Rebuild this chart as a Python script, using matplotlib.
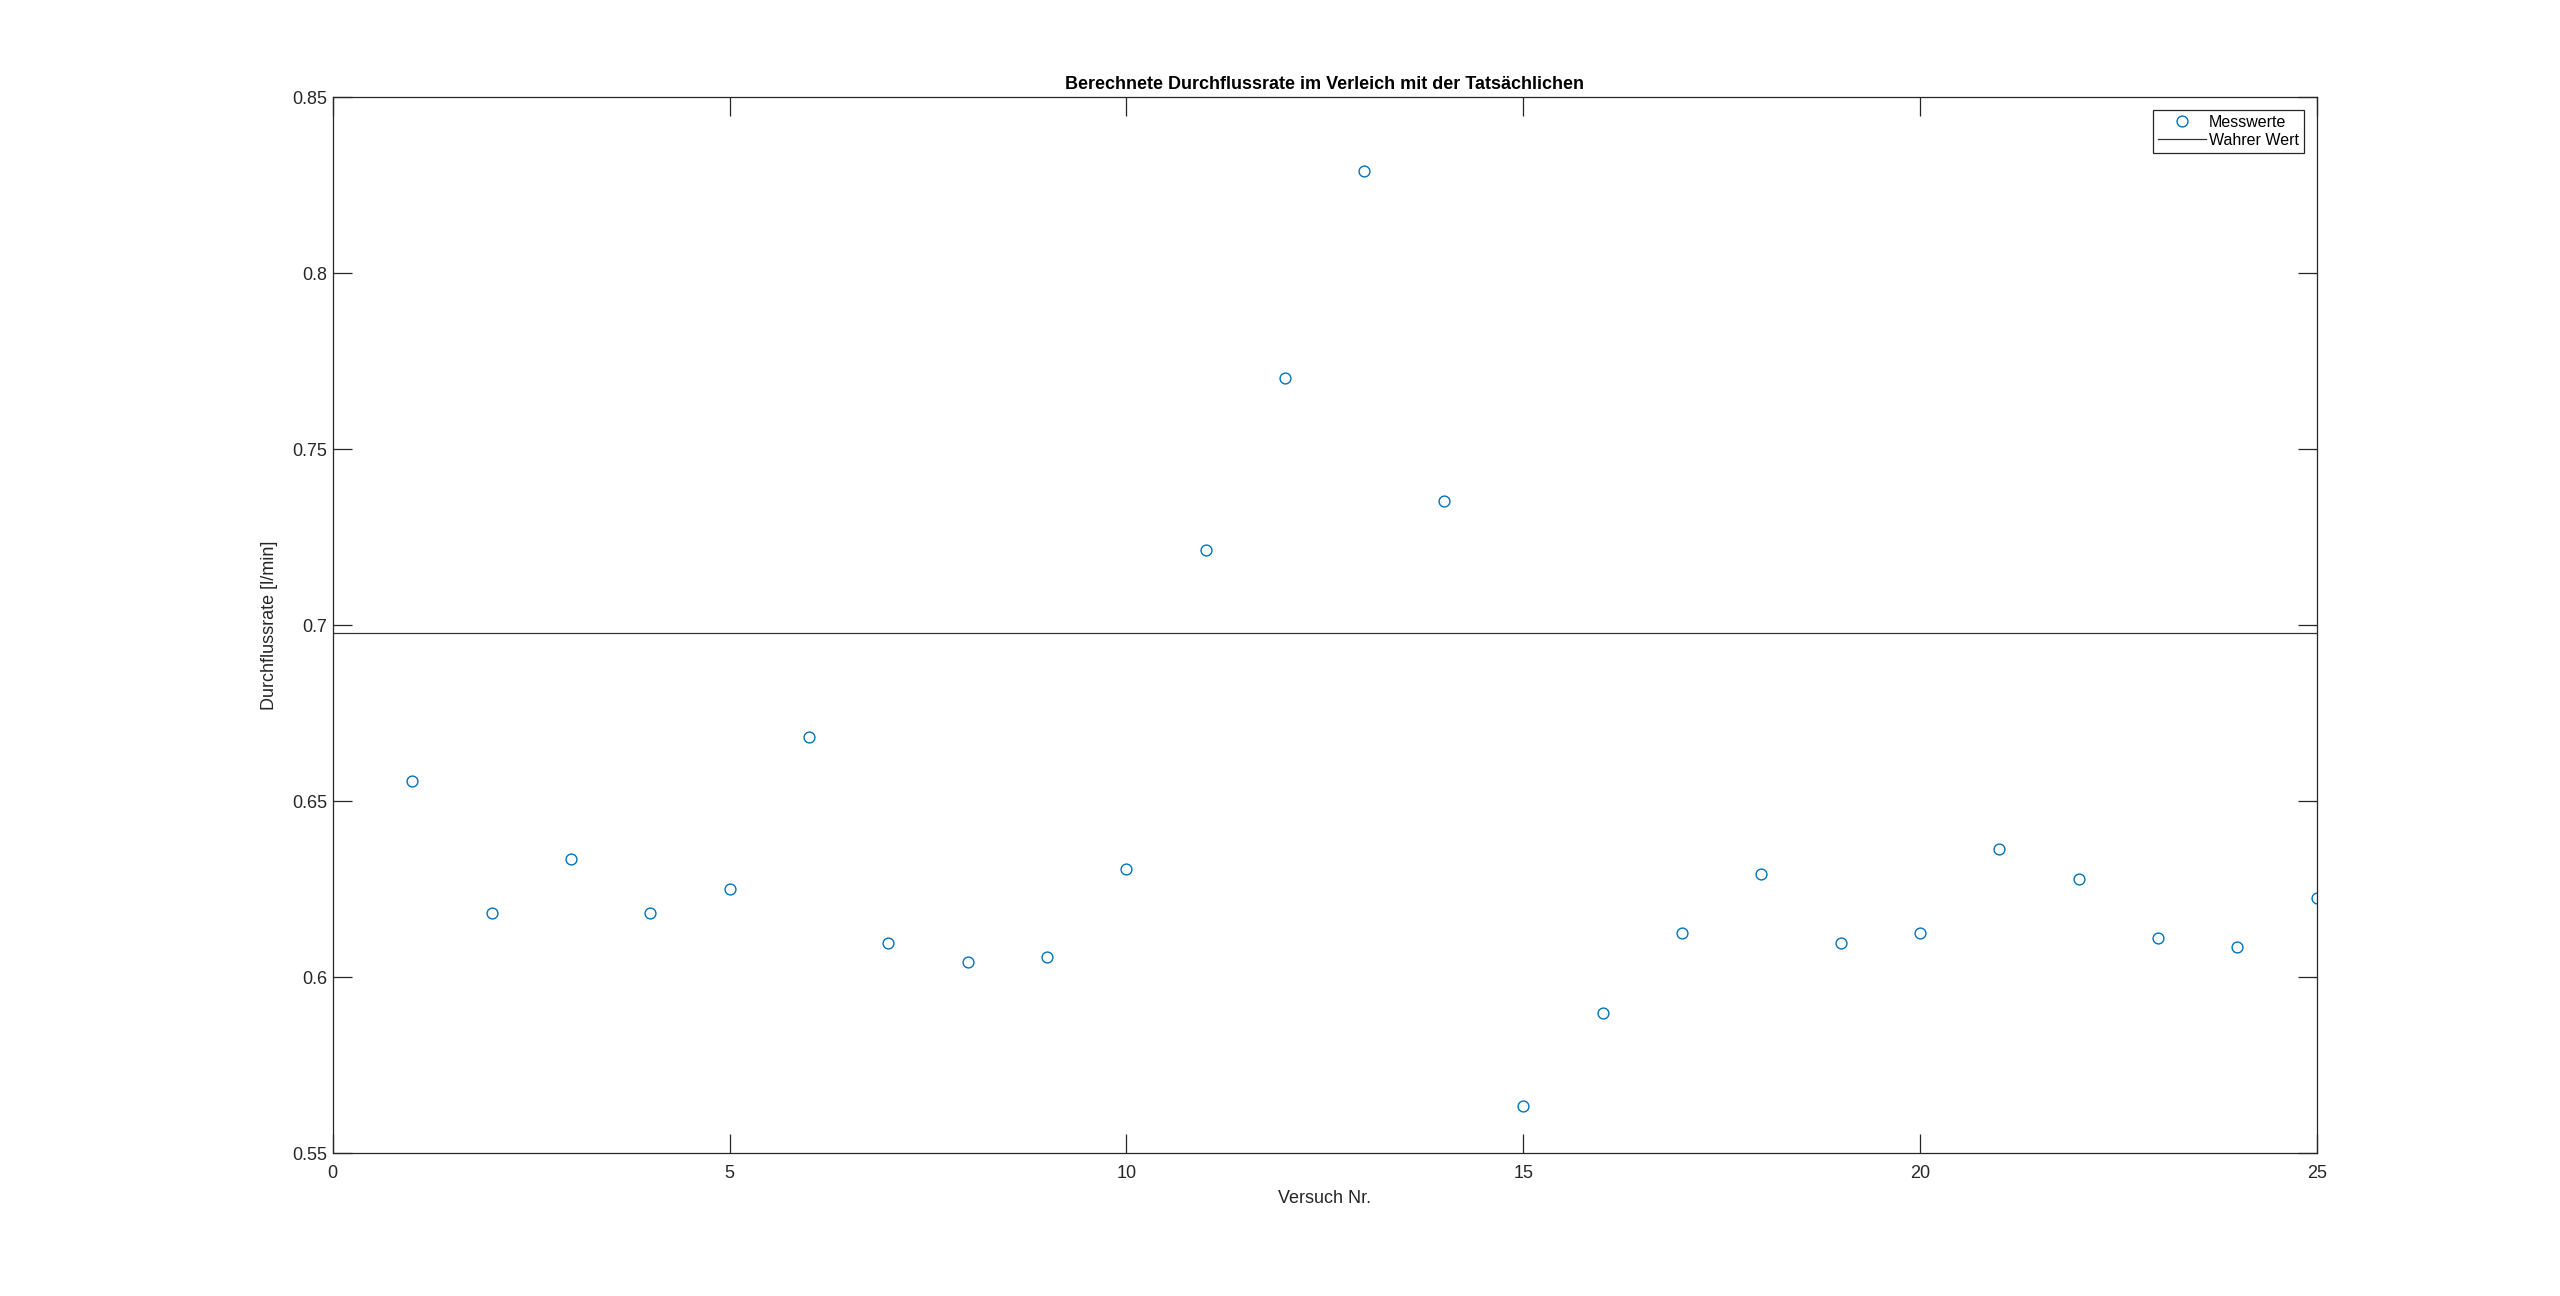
import matplotlib
matplotlib.use("Agg")
import matplotlib.pyplot as plt

plt.rcParams['font.family'] = ['Liberation Sans', 'DejaVu Sans']

versuch = list(range(1, 26))
messwerte = [0.6559, 0.6183, 0.6336, 0.6183, 0.6252, 0.6684, 0.6099, 0.6043, 0.6057, 0.6308,
             0.7214, 0.7702, 0.8291, 0.7353, 0.5635, 0.5899, 0.6127, 0.6294, 0.6099, 0.6127,
             0.6364, 0.6280, 0.6113, 0.6085, 0.6225]
wahrer_wert = 0.6977
x_limits = [0, 25]
y_limits = [0.55, 0.85]
x_ticks = [0, 5, 10, 15, 20, 25]
y_ticks = [0.55, 0.6, 0.65, 0.7, 0.75, 0.8, 0.85]
y_ticklabels = ['0.55', '0.6', '0.65', '0.7', '0.75', '0.8', '0.85']

axc = (0.15, 0.15, 0.15)
fig = plt.figure(figsize=(25.6, 12.96), dpi=100)
ax = fig.add_axes([0.13, 0.11, 0.775, 0.815])

ax.plot(versuch, messwerte, linestyle='none', marker='o', markersize=7.8,
        markerfacecolor='none', markeredgecolor='#0072BD', markeredgewidth=1.0,
        label='Messwerte')
ax.axhline(wahrer_wert, color=(0.2, 0.2, 0.2), linewidth=0.9, label='Wahrer Wert')

ax.set_xlim(x_limits)
ax.set_ylim(y_limits)
ax.set_xticks(x_ticks)
ax.set_xticklabels([str(t) for t in x_ticks])
ax.set_yticks(y_ticks)
ax.set_yticklabels(y_ticklabels)

ax.tick_params(direction='in', length=14, width=0.9, color=axc, labelcolor=axc,
               labelsize=13, top=True, right=True)
ax.tick_params(axis='x', pad=8)
ax.tick_params(axis='y', pad=4)
for s in ax.spines.values():
    s.set_color(axc)
    s.set_linewidth(0.9)

ax.set_title('Berechnete Durchflussrate im Verleich mit der Tatsächlichen',
             fontsize=13, fontweight='bold', pad=6)
ax.set_xlabel('Versuch Nr.', fontsize=13, color=axc, labelpad=6)
ax.set_ylabel('Durchflussrate [l/min]', fontsize=13, color=axc, labelpad=10)

leg = ax.legend(loc='upper right', fontsize=11.5, frameon=True, fancybox=False,
                edgecolor=axc, framealpha=1, handlelength=3, handletextpad=0.2,
                labelspacing=0.2, borderpad=0.3, borderaxespad=0.8)
leg.get_frame().set_linewidth(0.9)

fig.savefig('out.png', dpi=100, facecolor='white')
